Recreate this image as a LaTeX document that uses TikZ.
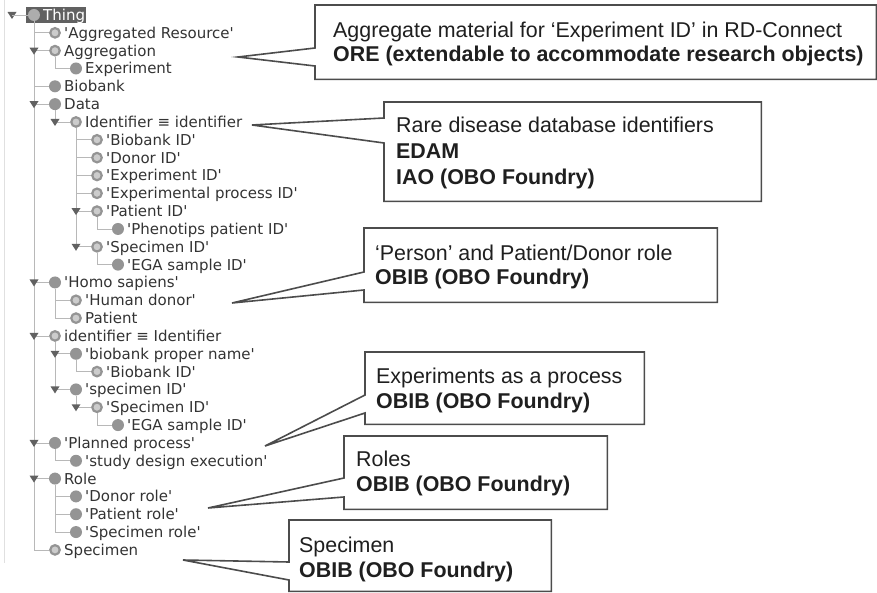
\documentclass[tikz,border=0pt]{standalone}
\usepackage{fontspec}
\usepackage{tikz}
\setmainfont{Liberation Sans}
\newfontfamily\treefont{DejaVu Sans}[Ligatures=TeXOff]
\usetikzlibrary{positioning,calc}

\tikzset{
  treeline/.style={draw=black!28, line width=0.8pt},
  fullclass/.style={circle, fill=black!42, minimum size=12pt, inner sep=0pt},
  ringclass/.style={circle, fill=black!20, draw=black!42, line width=2.2pt, minimum size=9.5pt, inner sep=0pt},
  treelabel/.style={anchor=base west, inner sep=0pt, text=black!80, font=\treefont\fontsize{15}{17}\selectfont},
  expander/.style={fill=black!62},
  notebox/.style={anchor=north west, inner sep=0pt},
  notetext/.style={anchor=base west, inner sep=0pt, align=left, text=black!88, font=\fontsize{21.4}{24.5}\selectfont},
  calloutline/.style={draw=black!70, line width=1.6pt, fill=white, line join=miter}
}
% box outline with a pointer: box, tip, upper and lower y of the pointer base
\newcommand{\notecallout}[4]{%
  \draw[calloutline] (#1.north west) -- (#1.north east) -- (#1.south east) -- (#1.south west)
    -- (#1.west |- 0,#4) -- (#2) -- (#1.west |- 0,#3) -- cycle;}

\begin{document}
\begin{tikzpicture}[x=1pt, y=-1pt]
    \useasboundingbox (0,0) rectangle (877,593);
    \draw[black!12, line width=1pt] (4,0) -- (4,563);

    % Root
    \fill[black!62] (26,7) rectangle (86,23);
    \node[circle, fill=black!32, minimum size=12pt, inner sep=0pt] (c0) at (34,15) {};
    \node[treelabel, text=white] (t0) at ($(c0)+(9,5.5)$) {Thing};
    \coordinate (x0) at (12,15);
    \fill[expander] ($(x0)+(-4.5,-3)$) -- ++(9,0) -- ++(-4.5,7) -- cycle;
    \draw[treeline] (x0) -- (c0.west);

    % Class hierarchy: row/level/parent/kind/label
    \foreach \r/\l/\p/\k/\t in {
        1/1/0/ringclass/'Aggregated Resource',
        2/1/0/ringclass/Aggregation,
        3/2/2/fullclass/Experiment,
        4/1/0/fullclass/Biobank,
        5/1/0/fullclass/Data,
        6/2/5/ringclass/Identifier ≡ identifier,
        7/3/6/ringclass/'Biobank ID',
        8/3/6/ringclass/'Donor ID',
        9/3/6/ringclass/'Experiment ID',
        10/3/6/ringclass/'Experimental process ID',
        11/3/6/ringclass/'Patient ID',
        12/4/11/fullclass/'Phenotips patient ID',
        13/3/6/ringclass/'Specimen ID',
        14/4/13/fullclass/'EGA sample ID',
        15/1/0/fullclass/'Homo sapiens',
        16/2/15/ringclass/'Human donor',
        17/2/15/ringclass/Patient,
        18/1/0/ringclass/identifier ≡ Identifier,
        19/2/18/fullclass/'biobank proper name',
        20/3/19/ringclass/'Biobank ID',
        21/2/18/fullclass/'specimen ID',
        22/3/21/ringclass/'Specimen ID',
        23/4/22/fullclass/'EGA sample ID',
        24/1/0/fullclass/'Planned process',
        25/2/24/fullclass/'study design execution',
        26/1/0/fullclass/Role,
        27/2/26/fullclass/'Donor role',
        28/2/26/fullclass/'Patient role',
        29/2/26/fullclass/'Specimen role',
        30/1/0/ringclass/Specimen} {
        \node[\k] (c\r) at ({34+21*\l}, {15+17.83*\r}) {};
        \node[treelabel] (t\r) at ($(c\r)+(9,5.5)$) {\t};
        \draw[treeline] (c\p.south) |- (c\r.west);
    }

    % Expanded classes
    \foreach \r/\p in {2/0, 5/0, 6/5, 11/6, 13/6, 15/0, 18/0, 19/18, 21/18, 22/21, 24/0, 26/0} {
        \fill[expander] ($(c\r -| c\p)+(-4.5,-3)$) -- ++(9,0) -- ++(-4.5,7) -- cycle;
    }

    % Notes
    \node[notebox, minimum width=561pt, minimum height=74pt] (ore) at (315,5) {};
    \node[notebox, minimum width=377pt, minimum height=99pt] (edam) at (384,102) {};
    \node[notebox, minimum width=353pt, minimum height=74pt] (person) at (364,228) {};
    \node[notebox, minimum width=279pt, minimum height=72pt] (process) at (365,352) {};
    \node[notebox, minimum width=263pt, minimum height=73pt] (roles) at (344,436) {};
    \node[notebox, minimum width=262pt, minimum height=71pt] (specimen) at (289,520) {};

    \coordinate (tipore) at (238,57);
    \coordinate (tipedam) at (252,125);
    \coordinate (tipperson) at (232,303);
    \coordinate (tipprocess) at (265,446);
    \coordinate (tiproles) at (208,508);
    \coordinate (tipspecimen) at (183,560);

    \notecallout{ore}{tipore}{48}{66}
    \notecallout{edam}{tipedam}{118}{143}
    \notecallout{person}{tipperson}{272}{290}
    \notecallout{process}{tipprocess}{395}{413}
    \notecallout{roles}{tiproles}{478}{497}
    \notecallout{specimen}{tipspecimen}{562}{580}

    \node[notetext] (oretext) at (333,62) {Aggregate material for ‘Experiment ID’ in RD-Connect\\\textbf{ORE (extendable to accommodate research objects)}};
    \node[notetext, font=\fontsize{21.4}{26}\selectfont] (edamtext) at (396,185) {Rare disease database identifiers\\\textbf{EDAM}\\\textbf{IAO (OBO Foundry)}};
    \node[notetext] (persontext) at (375,285) {‘Person’ and Patient/Donor role\\\textbf{OBIB (OBO Foundry)}};
    \node[notetext] (processtext) at (376,408) {Experiments as a process\\\textbf{OBIB (OBO Foundry)}};
    \node[notetext] (rolestext) at (356,491) {Roles\\\textbf{OBIB (OBO Foundry)}};
    \node[notetext] (specimentext) at (299,577) {Specimen\\\textbf{OBIB (OBO Foundry)}};
\end{tikzpicture}
\end{document}
